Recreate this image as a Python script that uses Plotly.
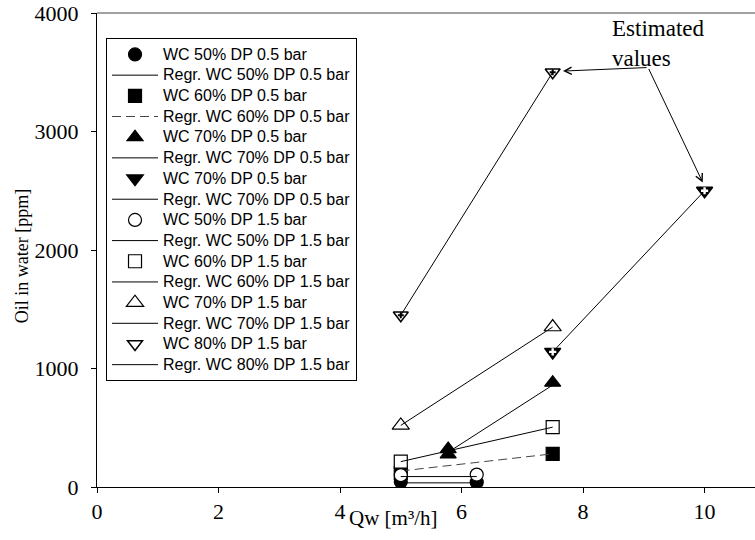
import plotly.graph_objects as go

# Water flow rate [m3/h] and oil-in-water concentration [ppm] per series
qw_wc50_dp05 = [5.0, 6.25]
oiw_wc50_dp05 = [45, 40]
reg_qw_wc50_dp05 = [5.0, 6.25]
reg_oiw_wc50_dp05 = [35, 35]

qw_wc60_dp05 = [5.0, 7.5]
oiw_wc60_dp05 = [120, 280]
reg_qw_wc60_dp05 = [5.0, 7.5]
reg_oiw_wc60_dp05 = [135, 280]

qw_wc70_dp05 = [5.78, 5.78, 7.5]
oiw_wc70_dp05 = [320, 275, 880]
reg_qw_wc70_dp05 = [5.8, 7.5]
reg_oiw_wc70_dp05 = [300, 860]

qw_wc70_dp05_b = [7.5, 10.0]
oiw_wc70_dp05_b = [1140, 2500]
reg_qw_wc70_dp05_b = [7.5, 10.0]
reg_oiw_wc70_dp05_b = [1140, 2500]

qw_wc50_dp15 = [5.0, 6.25]
oiw_wc50_dp15 = [100, 105]
reg_qw_wc50_dp15 = [5.0, 6.25]
reg_oiw_wc50_dp15 = [88, 88]

qw_wc60_dp15 = [5.0, 7.5]
oiw_wc60_dp15 = [214, 505]
reg_qw_wc60_dp15 = [5.0, 7.5]
reg_oiw_wc60_dp15 = [214, 505]

qw_wc70_dp15 = [5.0, 7.5]
oiw_wc70_dp15 = [520, 1350]
reg_qw_wc70_dp15 = [5.0, 7.5]
reg_oiw_wc70_dp15 = [520, 1350]

qw_wc80_dp15 = [5.0, 7.5]
oiw_wc80_dp15 = [1450, 3500]
reg_qw_wc80_dp15 = [5.0, 7.5]
reg_oiw_wc80_dp15 = [1450, 3500]

x_ticks = [0, 2, 4, 6, 8, 10]
y_ticks = [0, 1000, 2000, 3000, 4000]

SERIF = "Liberation Serif, Times New Roman, serif"
SANS = "Liberation Sans, Arial, sans-serif"
MS = 13

fig = go.Figure()


def label(name):
    # legend entries are set a little larger than the row pitch font
    return "<span style='font-size:16px'>" + name + "</span>"


def data_trace(x, y, name, symbol, color, line_color="black", line_width=1.2, size=MS):
    fig.add_trace(go.Scatter(
        x=x, y=y, mode="markers", name=label(name),
        marker=dict(symbol=symbol, size=size, color=color,
                    line=dict(color=line_color, width=line_width)),
    ))


def reg_trace(x, y, name, dash="solid", color="black"):
    fig.add_trace(go.Scatter(
        x=x, y=y, mode="lines", name=label(name),
        line=dict(color=color, width=1, dash=dash),
    ))


data_trace(qw_wc50_dp05, oiw_wc50_dp05, "WC 50% DP 0.5 bar", "circle", "black")
reg_trace(reg_qw_wc50_dp05, reg_oiw_wc50_dp05, "Regr. WC 50% DP 0.5 bar")
data_trace(qw_wc60_dp05, oiw_wc60_dp05, "WC 60% DP 0.5 bar", "square", "black")
reg_trace(reg_qw_wc60_dp05, reg_oiw_wc60_dp05, "Regr. WC 60% DP 0.5 bar",
          dash="9px,5px", color="#444444")
data_trace(qw_wc70_dp05, oiw_wc70_dp05, "WC 70% DP 0.5 bar", "triangle-up", "black", size=14)
reg_trace(reg_qw_wc70_dp05, reg_oiw_wc70_dp05, "Regr. WC 70% DP 0.5 bar")
data_trace(qw_wc70_dp05_b, oiw_wc70_dp05_b, "WC 70% DP 0.5 bar", "triangle-down", "black",
           line_width=1.5, size=14)
reg_trace(reg_qw_wc70_dp05_b, reg_oiw_wc70_dp05_b, "Regr. WC 70% DP 0.5 bar")
data_trace(qw_wc50_dp15, oiw_wc50_dp15, "WC 50% DP 1.5 bar", "circle", "white")
reg_trace(reg_qw_wc50_dp15, reg_oiw_wc50_dp15, "Regr. WC 50% DP 1.5 bar")
data_trace(qw_wc60_dp15, oiw_wc60_dp15, "WC 60% DP 1.5 bar", "square", "white")
reg_trace(reg_qw_wc60_dp15, reg_oiw_wc60_dp15, "Regr. WC 60% DP 1.5 bar")
data_trace(qw_wc70_dp15, oiw_wc70_dp15, "WC 70% DP 1.5 bar", "triangle-up", "white", size=15)
reg_trace(reg_qw_wc70_dp15, reg_oiw_wc70_dp15, "Regr. WC 70% DP 1.5 bar")
data_trace(qw_wc80_dp15, oiw_wc80_dp15, "WC 80% DP 1.5 bar", "triangle-down", "white",
           line_width=1.5, size=13)
reg_trace(reg_qw_wc80_dp15, reg_oiw_wc80_dp15, "Regr. WC 80% DP 1.5 bar")

# plus signs inside the inverted-triangle markers
fig.add_trace(go.Scatter(
    x=qw_wc70_dp05_b, y=oiw_wc70_dp05_b, mode="markers", showlegend=False,
    hoverinfo="skip",
    marker=dict(symbol="cross", size=6, color="white", line=dict(width=0)),
))
fig.add_trace(go.Scatter(
    x=qw_wc80_dp15, y=oiw_wc80_dp15, mode="markers", showlegend=False,
    hoverinfo="skip",
    marker=dict(symbol="cross", size=5, color="black", line=dict(width=0)),
))

# "Estimated values" callout with arrows to the two estimated points
tail_x, tail_y = 9.07, 3540
fig.add_annotation(x=8.45, y=0.997, xref="x", yref="paper", text="Estimated<br>values",
                   showarrow=False, xanchor="left", yanchor="top", align="left",
                   font=dict(family=SERIF, size=23, color="black"))
for tip_x, tip_y in [(qw_wc80_dp15[1] + 0.17, oiw_wc80_dp15[1] + 10),
                     (qw_wc70_dp05_b[1] - 0.03, oiw_wc70_dp05_b[1] + 70)]:
    fig.add_annotation(x=tip_x, y=tip_y, ax=tail_x, ay=tail_y,
                       xref="x", yref="y", axref="x", ayref="y", text="",
                       showarrow=True, arrowhead=5, arrowsize=1.4, arrowwidth=1,
                       arrowcolor="black")

# axis titles
fig.add_annotation(x=-0.114, y=0.487, xref="paper", yref="paper", text="Oil in water [ppm]",
                   textangle=-90, showarrow=False, xanchor="center", yanchor="middle",
                   font=dict(family=SERIF, size=18, color="black"))
fig.add_annotation(x=0.45, y=-0.066, xref="paper", yref="paper", text="Qw [m³/h]",
                   showarrow=False, xanchor="center", yanchor="middle",
                   font=dict(family=SERIF, size=21, color="black"))

# top frame line
fig.add_shape(type="line", xref="paper", yref="paper", x0=0, x1=1, y0=1, y1=1,
              line=dict(color="#444444", width=1))

fig.update_layout(
    width=755, height=540,
    margin=dict(l=97, r=0, t=13, b=53),
    paper_bgcolor="white", plot_bgcolor="white",
    showlegend=True,
    legend=dict(
        x=0.0137, y=0.947, xanchor="left", yanchor="top",
        bgcolor="white", bordercolor="black", borderwidth=1,
        font=dict(family=SANS, size=13.6, color="black"),
        itemwidth=46, tracegroupgap=0,
    ),
    xaxis=dict(
        range=[0, 10.83], tickvals=x_ticks, ticks="outside", ticklen=5,
        tickcolor="black", showline=True, linecolor="black", linewidth=1,
        showgrid=False, zeroline=False,
        tickfont=dict(family=SERIF, size=22, color="black"),
    ),
    yaxis=dict(
        range=[0, 4000], tickvals=y_ticks, ticks="outside", ticklen=5,
        tickcolor="black", showline=True, linecolor="black", linewidth=1,
        showgrid=False, zeroline=False, ticklabelstandoff=8,
        tickfont=dict(family=SERIF, size=22, color="black"),
    ),
)

fig.write_html("out.html")
